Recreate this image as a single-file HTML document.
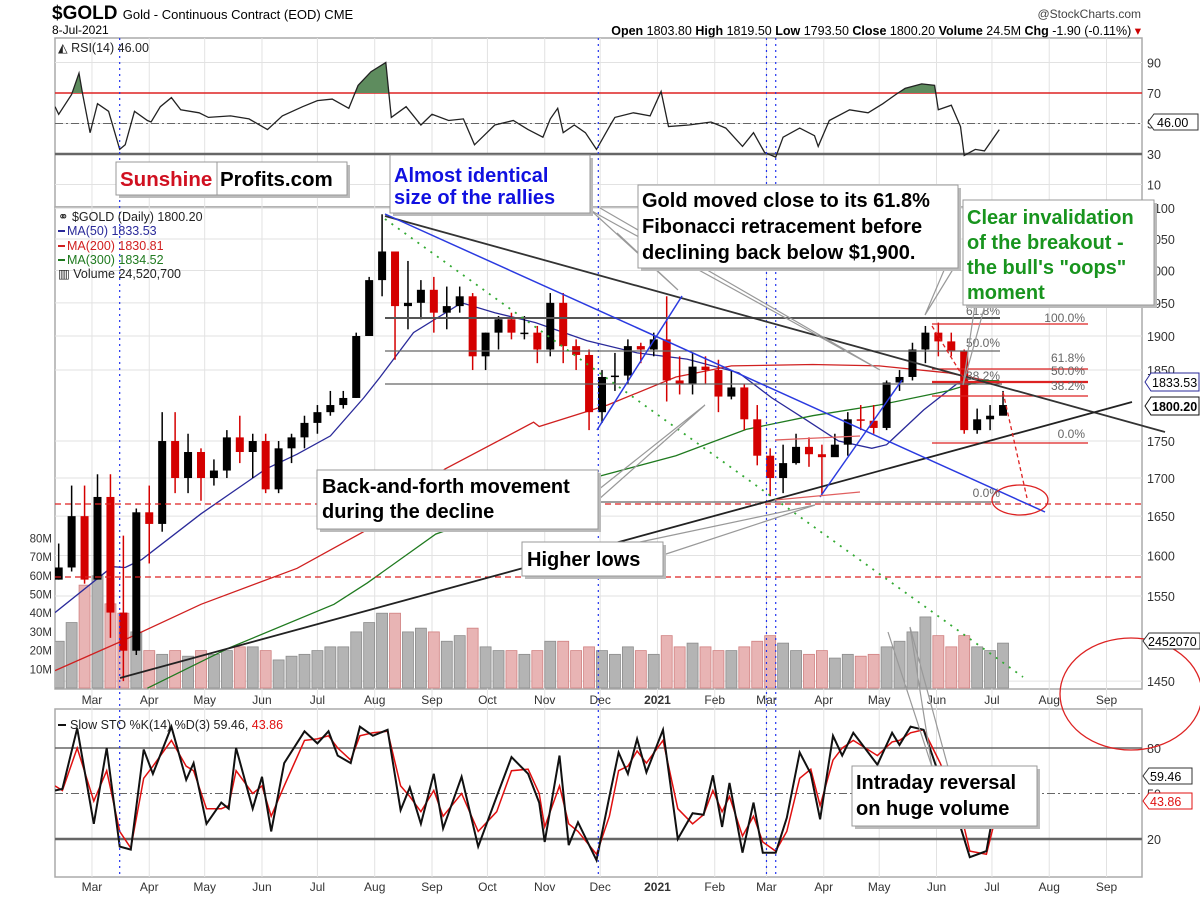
<!DOCTYPE html>
<html><head><meta charset="utf-8"><style>
html,body{margin:0;padding:0;background:#fff}
svg{display:block;font-family:"Liberation Sans",Arial,sans-serif}
</style></head><body>
<svg id="chart" width="1200" height="897" viewBox="0 0 1200 897" xmlns="http://www.w3.org/2000/svg">
<defs>
<clipPath id="cpP"><rect x="55" y="207" width="1087" height="482"/></clipPath>
<clipPath id="cpR"><rect x="55" y="38" width="1087" height="169"/></clipPath>
<clipPath id="cpR70"><rect x="55" y="38" width="1087" height="54.5"/></clipPath>
<clipPath id="cpS"><rect x="55" y="709" width="1087" height="168"/></clipPath>
</defs>
<text x="52" y="19" font-size="19" font-weight="bold">$GOLD <tspan font-size="13" font-weight="normal">Gold - Continuous Contract (EOD)  CME</tspan></text>
<text x="52" y="34" font-size="12">8-Jul-2021</text>
<text x="1141" y="18" font-size="12" text-anchor="end" fill="#444">@StockCharts.com</text>
<text x="1141" y="35" font-size="12.5" text-anchor="end"><tspan font-weight="bold">Open</tspan> 1803.80  <tspan font-weight="bold">High</tspan> 1819.50  <tspan font-weight="bold">Low</tspan> 1793.50  <tspan font-weight="bold">Close</tspan> 1800.20  <tspan font-weight="bold">Volume</tspan> 24.5M  <tspan font-weight="bold">Chg</tspan> -1.90 (-0.11%) <tspan fill="#c00">▾</tspan></text>
<g id="grid"></g>
<g id="rsi" clip-path="url(#cpR)"></g>
<g id="vol" clip-path="url(#cpP)"></g>
<g id="price" clip-path="url(#cpP)"></g>
<g id="sto" clip-path="url(#cpS)"></g>
<g id="ann"></g>
<g id="axes"></g>
</svg>
<script>
// ---------- DATA ----------
const weekDays = [2,9,16,23,30,37,44,51,58,65,72,79,86,93,100,107,114,121,128,135,142,149,156,163,170,177,184,191,198,205,212,219,226,233,240,247,254,261,268,275,282,289,296,303,310,317,324,331,338,345,352,359,366,373,380,387,394,401,408,415,422,429,436,443,450,457,464,471,478,485,492,499,506,513];
const closes = [1585,1650,1570,1675,1530,1485,1655,1640,1750,1700,1735,1700,1710,1755,1735,1750,1685,1740,1755,1775,1790,1800,1810,1900,1985,2030,1945,1950,1970,1935,1945,1960,1870,1905,1925,1905,1905,1880,1950,1885,1872,1790,1840,1842,1885,1880,1895,1835,1830,1855,1850,1812,1825,1780,1730,1700,1720,1742,1732,1728,1745,1780,1778,1768,1832,1840,1880,1905,1892,1878,1765,1780,1785,1800];
const highs = [1615,1690,1690,1705,1705,1625,1660,1690,1790,1790,1760,1740,1725,1765,1785,1760,1760,1750,1760,1785,1800,1820,1820,1905,1990,2090,2015,2015,1985,1990,1975,1975,1965,1905,1930,1935,1930,1915,1965,1965,1895,1880,1850,1875,1895,1890,1905,1960,1870,1875,1870,1865,1850,1830,1800,1740,1745,1760,1755,1745,1760,1790,1800,1800,1835,1850,1890,1915,1920,1905,1880,1795,1800,1820];
const lows = [1570,1580,1565,1570,1500,1450,1480,1590,1630,1680,1680,1670,1690,1700,1720,1700,1680,1680,1720,1740,1760,1785,1795,1810,1900,1960,1865,1910,1925,1905,1910,1935,1850,1850,1880,1895,1895,1860,1870,1860,1850,1765,1775,1820,1830,1860,1870,1805,1815,1815,1830,1790,1808,1765,1717,1676,1680,1718,1715,1678,1730,1730,1765,1760,1765,1820,1835,1860,1870,1870,1760,1760,1765,1795];
const volumes = [25,35,55,60,45,40,30,20,18,20,17,20,18,20,22,22,20,15,17,18,20,22,22,30,35,40,40,30,32,30,25,28,32,22,20,20,18,20,25,25,20,22,20,18,22,20,18,28,22,24,22,20,20,22,25,28,24,20,18,20,16,18,17,18,22,25,30,38,28,22,28,22,20,24];
const ma50Days = [0,31,38,47,79,114,131,149,167,176,194,220,238,260,288,315,342,370,388,406,424,442,450,470,488,511];
const ma50 = [1530,1586,1585,1595,1653,1712,1732,1757,1810,1840,1905,1950,1935,1920,1893,1875,1866,1846,1810,1780,1750,1740,1745,1793,1830,1834];
const ma200Days = [0,38,79,131,167,211,259,262,299,336,366,410,446,483,502,511];
const ma200 = [1462,1498,1540,1584,1630,1712,1776,1770,1800,1840,1856,1858,1856,1846,1836,1831];
const ma300Days = [50,94,151,169,206,294,336,374,410,446,483,502,511];
const ma300 = [1442,1488,1540,1566,1627,1702,1730,1766,1785,1800,1820,1835,1834.5];
const rsiDays = [0,2,9,13,15,19,23,29,35,38,43,50,52,57,63,68,78,83,95,105,115,123,134,142,150,159,164,171,179,182,190,198,204,213,221,227,238,248,256,264,268,272,275,281,287,293,301,303,313,322,328,332,343,355,363,372,378,384,390,394,403,411,413,419,430,440,448,455,460,469,476,478,485,490,492,498,503,511];
const rsi = [61,56,69,83,69,44,63,58,33,36,58,52,51,61,67,59,57,54,55,53,46,55,61,65,66,60,75,84,90,54,61,49,56,52,53,36,49,52,46,41,53,60,44,49,44,33,50,54,57,55,71,48,49,51,47,35,44,31,28,41,47,42,35,52,59,57,63,69,73,76,75,59,62,48,29,33,32,46];
const stoDays = [0,4,12,21,28,35,41,48,53,63,71,75,82,90,94,98,107,112,117,124,135,142,148,153,160,165,172,180,187,192,198,205,210,220,229,239,247,256,262,265,273,278,283,293,300,305,310,315,320,329,337,345,351,356,361,365,372,378,383,390,396,403,409,414,421,426,432,445,453,457,463,470,479,490,495,504,511];
const stoK = [52,53,93,30,80,15,13,79,63,94,59,70,30,44,40,80,40,61,25,70,91,83,91,75,70,94,88,92,39,54,30,63,27,61,15,48,74,63,44,18,75,16,31,6,48,77,63,86,64,92,20,37,36,62,28,57,11,44,11,11,34,77,63,33,88,75,90,69,90,82,94,92,60,28,8,12,59];
const stoD = [55,52,80,45,65,25,14,60,68,85,68,65,40,40,42,65,50,55,35,55,85,86,88,80,72,88,90,91,55,48,38,52,35,50,25,38,65,66,50,28,55,30,25,10,35,65,68,78,70,85,40,30,36,52,38,48,22,35,18,12,25,60,66,42,72,80,85,75,84,85,90,92,70,38,12,10,44];
const monthLabels = ["Mar","Apr","May","Jun","Jul","Aug","Sep","Oct","Nov","Dec","2021","Feb","Mar","Apr","May","Jun","Jul","Aug","Sep"];
const monthDays = [20,51,81,112,142,173,204,234,265,295,326,357,385,416,446,477,507,538,569];
const priceTicks = [2100,2050,2000,1950,1900,1850,1750,1700,1650,1600,1550,1450];
const rsiTicks = [90,70,50,30,10];
const volTicks = [80,70,60,50,40,30,20,10];
const stoTicks = [80,50,20];
// ---------- SCALES ----------
const NS="http://www.w3.org/2000/svg";
const xD = d => 55 + d*1.848;
const yP = p => 336 - 1277*Math.log(p/1900);
const yR = v => 154 - (v-30)*1.525;
const yS = v => 839 - (v-20)*1.517;
const yV = m => 688 - m*1.87;
function mk(tag, attrs, parent){const e=document.createElementNS(NS,tag);for(const k in attrs)e.setAttribute(k,attrs[k]);parent.appendChild(e);return e;}
const G=id=>document.getElementById(id);
const grid=G('grid'),axes=G('axes');
[[38,169],[207,482],[709,168]].forEach(function(p){
  const r=mk('rect',{x:55,y:p[0],width:1087,height:p[1],fill:'#fff',stroke:'#aaa','stroke-width':1.5},grid);
  
  
});
monthDays.forEach(function(d,i){
  const l=mk('line',{x1:xD(d),x2:xD(d),y1:38,y2:877,stroke:'#e2e2e2'},grid);
  
  
  [704,891].forEach(function(yy){
    const t=mk('text',{x:xD(d),y:yy,'font-size':12,'text-anchor':'middle',fill:'#333','font-weight':monthLabels[i]==='2021'?'bold':'normal'},axes);
    t.textContent=monthLabels[i];
    
    
  });
});
priceTicks.forEach(function(p){
  const l=mk('line',{x1:55,x2:1142,y1:yP(p),y2:yP(p),stroke:'#e2e2e2'},grid);
  
  
  const t=mk('text',{x:1147,y:yP(p)+5,'font-size':12.5,fill:'#333'},axes);
  t.textContent=p;
  
  
});
rsiTicks.forEach(function(v){
  const l=mk('line',{x1:55,x2:1142,y1:yR(v),y2:yR(v),stroke:'#e2e2e2'},grid);
  
  
  const t=mk('text',{x:1147,y:yR(v)+5,'font-size':12.5,fill:'#333'},axes);
  t.textContent=v;
  
  
});
volTicks.forEach(function(m){
  const t=mk('text',{x:52,y:yV(m)+4,'font-size':11.5,'text-anchor':'end',fill:'#333'},axes);
  t.textContent=m+'M';
  
  
});
stoTicks.forEach(function(v){
  const t=mk('text',{x:1147,y:yS(v)+5,'font-size':12.5,fill:'#333'},axes);
  t.textContent=v;
  
  
});
(function(){
  const a=mk('line',{x1:55,x2:1142,y1:yR(70),y2:yR(70),stroke:'#d22','stroke-width':1.5},grid);
  
  
  const b=mk('line',{x1:55,x2:1142,y1:yR(30),y2:yR(30),stroke:'#666','stroke-width':2.5},grid);
  
  
  const c=mk('line',{x1:55,x2:1142,y1:yR(50),y2:yR(50),stroke:'#666','stroke-dasharray':'8 3 2 3'},grid);
  
  
  const d=mk('line',{x1:55,x2:1142,y1:yS(80),y2:yS(80),stroke:'#666','stroke-width':1.5},grid);
  
  
  const e=mk('line',{x1:55,x2:1142,y1:yS(20),y2:yS(20),stroke:'#666','stroke-width':2.5},grid);
  
  
  const f=mk('line',{x1:55,x2:1142,y1:yS(50),y2:yS(50),stroke:'#666','stroke-dasharray':'8 3 2 3'},grid);
  
  
})();
// RSI
const rsiG=G('rsi');
let rp=rsiDays.map((d,i)=>xD(d).toFixed(1)+','+yR(rsi[i]).toFixed(1)).join(' ');
document.querySelector('#cpR70 rect').setAttribute('height', yR(70)-38);
const rf=mk('polygon',{points:xD(rsiDays[0])+','+yR(70)+' '+rp+' '+xD(rsiDays[rsiDays.length-1])+','+yR(70),fill:'#5e8c5e',stroke:'none','clip-path':'url(#cpR70)'},rsiG);


const rl=mk('polyline',{points:rp,fill:'none',stroke:'#222','stroke-width':1.3},rsiG);


// volume
const volG=G('vol');
volumes.forEach(function(v,i){
  const down=i>0&&closes[i]<closes[i-1];
  const b=mk('rect',{x:xD(weekDays[i])-5.5,y:yV(v),width:11,height:688-yV(v),fill:down?'#e8b4b4':'#b4b4b4',stroke:down?'#d08080':'#8c8c8c','stroke-width':0.8},volG);
  
  
});
// MAs
const priceG=G('price');
function maLine(days,vals,col,name){
  const l=mk('polyline',{points:days.map((d,i)=>xD(d).toFixed(1)+','+yP(vals[i]).toFixed(1)).join(' '),fill:'none',stroke:col,'stroke-width':1.3},priceG);
  
  
}
maLine(ma50Days,ma50,'#2a2a9a','ma50-line');
maLine(ma200Days,ma200,'#d02020','ma200-line');
maLine(ma300Days,ma300,'#1f7a1f','ma300-line');
// candles
closes.forEach(function(c,i){
  const o=i>0?closes[i-1]:lows[i];
  const down=i>0&&c<closes[i-1];
  const col=down?'#d40000':'#000';
  const x=xD(weekDays[i]);
  const w=mk('line',{x1:x,x2:x,y1:yP(highs[i]),y2:yP(lows[i]),stroke:col,'stroke-width':1.5},priceG);
  
  
  const top=Math.min(yP(o),yP(c)),h=Math.max(1.5,Math.abs(yP(o)-yP(c)));
  const b=mk('rect',{x:x-4,y:top,width:8,height:h,fill:col},priceG);
  
  
});
// stochastic
const stoG=G('sto');
const sd=mk('polyline',{points:stoDays.map((d,i)=>xD(d).toFixed(1)+','+yS(stoD[i]).toFixed(1)).join(' '),fill:'none',stroke:'#e01010','stroke-width':1.5},stoG);


const sk=mk('polyline',{points:stoDays.map((d,i)=>xD(d).toFixed(1)+','+yS(stoK[i]).toFixed(1)).join(' '),fill:'none',stroke:'#111','stroke-width':2},stoG);


[35,294,385,390].forEach(function(d){
  const l=mk('line',{x1:xD(d),x2:xD(d),y1:38,y2:877,stroke:'#2233ee','stroke-width':1.2,'stroke-dasharray':'2 4'},G('ann'));
  
  
});
</script>
<svg x="0" y="0" width="1200" height="897" style="position:absolute;left:0;top:0" viewBox="0 0 1200 897" font-family="Liberation Sans, Arial, sans-serif">
<g fill="none">
<line x1="55" y1="504" x2="1142" y2="504" stroke="#d22" stroke-dasharray="6 4" stroke-width="1.2"/>
<line x1="55" y1="577" x2="1142" y2="577" stroke="#d22" stroke-dasharray="6 4" stroke-width="1.2"/>
<line x1="385" y1="318" x2="1000" y2="318" stroke="#555" stroke-width="2"/>
<line x1="385" y1="351" x2="1000" y2="351" stroke="#666" stroke-width="1.3"/>
<line x1="385" y1="384" x2="1002" y2="384" stroke="#666" stroke-width="1.3"/>
<line x1="597" y1="502" x2="1000" y2="502" stroke="#666" stroke-width="1.3"/>
<line x1="932" y1="324" x2="1088" y2="324" stroke="#d22" stroke-width="1.2"/>
<line x1="932" y1="369" x2="1088" y2="369" stroke="#d22" stroke-width="1.2"/>
<line x1="932" y1="382" x2="1088" y2="382" stroke="#d22" stroke-width="2.2"/>
<line x1="932" y1="396" x2="1088" y2="396" stroke="#d22" stroke-width="1.2"/>
<line x1="932" y1="443" x2="1088" y2="443" stroke="#d22" stroke-width="1.2"/>
<line x1="385" y1="216" x2="1165" y2="432" stroke="#333" stroke-width="1.8"/>
<line x1="120" y1="678" x2="1132" y2="402" stroke="#222" stroke-width="1.8"/>
<line x1="385" y1="214" x2="1045" y2="512" stroke="#2a3ae0" stroke-width="1.5"/>
<line x1="385" y1="219" x2="1023" y2="677" stroke="#3a3" stroke-width="1.8" stroke-dasharray="2 6"/>
<line x1="597" y1="430" x2="682" y2="296" stroke="#2a3ae0" stroke-width="1.5"/>
<line x1="820" y1="497" x2="902" y2="380" stroke="#2a3ae0" stroke-width="1.5"/>
<line x1="775" y1="440" x2="860" y2="436" stroke="#e06060" stroke-width="1.3"/>
<line x1="775" y1="500" x2="860" y2="492" stroke="#e06060" stroke-width="1.3"/>
<polyline points="932,326 965,380" stroke="#d22" stroke-dasharray="4 3" stroke-width="1.3"/>
<polyline points="1003,392 1027,498" stroke="#d22" stroke-dasharray="4 3" stroke-width="1.3"/>
<ellipse cx="1020" cy="500" rx="28" ry="15" stroke="#d22" stroke-width="1.3"/>
<ellipse cx="1131" cy="694" rx="71" ry="56" stroke="#d22" stroke-width="1.3"/>
</g>
<g font-size="12" fill="#666" text-anchor="end">
<text x="1085" y="322">100.0%</text><text x="1085" y="362">61.8%</text><text x="1085" y="375">50.0%</text><text x="1085" y="390">38.2%</text><text x="1085" y="438">0.0%</text>
<text x="1000" y="315">61.8%</text><text x="1000" y="347">50.0%</text><text x="1000" y="380">38.2%</text><text x="1000" y="497">0.0%</text>
</g>
<g stroke="#999" stroke-width="1.2" fill="none">
<polyline points="585,205 678,290 617,233"/>
<polyline points="590,210 880,370 600,208"/>
<polyline points="955,266 925,315 945,268"/>
<polyline points="975,305 963,385 985,305"/>
<polyline points="598,500 705,405 598,490"/>
<polyline points="663,555 815,505 640,542"/>
<polyline points="948,767 910,627 932,767"/>
<polyline points="932,767 888,632"/>
</g>
<g font-size="12.5">
<text x="58" y="221" fill="#222">⚭ $GOLD (Daily) 1800.20</text>
<line x1="58" y1="231" x2="65" y2="231" stroke="#2a2a9a" stroke-width="2"/><text x="67" y="235" fill="#2a2a9a">MA(50) 1833.53</text>
<line x1="58" y1="246" x2="65" y2="246" stroke="#d02020" stroke-width="2"/><text x="67" y="250" fill="#d02020">MA(200) 1830.81</text>
<line x1="58" y1="260" x2="65" y2="260" stroke="#1f7a1f" stroke-width="2"/><text x="67" y="264" fill="#1f7a1f">MA(300) 1834.52</text>
<text x="58" y="278" fill="#222">▥ Volume 24,520,700</text>
<text x="58" y="52" fill="#222">◭ RSI(14) 46.00</text>
<line x1="58" y1="725" x2="66" y2="725" stroke="#111" stroke-width="2"/><text x="70" y="729" fill="#222">Slow STO %K(14) %D(3) 59.46, <tspan fill="#e01010">43.86</tspan></text>
</g>
<g font-size="12.5">
<path d="M1148,122 l6,-8 h44 v16 h-44 z" fill="#fff" stroke="#333"/><text x="1157" y="127">46.00</text>
<path d="M1145,382 l6,-9 h48 v18 h-48 z" fill="#fff" stroke="#2a2a9a"/><text x="1152" y="387">1833.53</text>
<path d="M1145,406 l6,-9 h48 v18 h-48 z" fill="#fff" stroke="#111"/><text x="1152" y="411" font-weight="bold">1800.20</text>
<path d="M1143,641 l6,-8 h51 v16 h-51 z" fill="#fff" stroke="#333"/><text x="1148" y="646">2452070</text>
<path d="M1143,776 l6,-8 h43 v16 h-43 z" fill="#fff" stroke="#333"/><text x="1150" y="781">59.46</text>
<path d="M1143,801 l6,-8 h43 v16 h-43 z" fill="#fff" stroke="#e01010"/><text x="1150" y="806" fill="#e01010">43.86</text>
</g>
<g font-weight="bold" font-size="20">
<g><rect x="119" y="165" width="231" height="33" fill="#bbb"/><rect x="116" y="162" width="231" height="33" fill="#fff" stroke="#999"/><line x1="217" y1="162" x2="217" y2="195" stroke="#999"/><text x="120" y="186" fill="#d01020" font-size="20.5">Sunshine</text><text x="220" y="186" fill="#000" font-size="20.5">Profits.com</text></g>
<g><rect x="393" y="158" width="200" height="58" fill="#bbb"/><rect x="390" y="155" width="200" height="58" fill="#fff" stroke="#999"/><text x="394" y="182" fill="#1010e0">Almost identical</text><text x="394" y="204" fill="#1010e0">size of the rallies</text></g>
<g><rect x="641" y="188" width="320" height="83" fill="#bbb"/><rect x="638" y="185" width="320" height="83" fill="#fff" stroke="#999"/><text x="642" y="207">Gold moved close to its 61.8%</text><text x="642" y="233">Fibonacci retracement before</text><text x="642" y="259">declining back below $1,900.</text></g>
<g><rect x="966" y="203" width="191" height="105" fill="#bbb"/><rect x="963" y="200" width="191" height="105" fill="#fff" stroke="#999"/><text x="967" y="224" fill="#18941e">Clear invalidation</text><text x="967" y="249" fill="#18941e">of the breakout -</text><text x="967" y="274" fill="#18941e">the bull's "oops"</text><text x="967" y="299" fill="#18941e">moment</text></g>
<g><rect x="320" y="473" width="281" height="59" fill="#bbb"/><rect x="317" y="470" width="281" height="59" fill="#fff" stroke="#999"/><text x="322" y="493">Back-and-forth movement</text><text x="322" y="518">during the decline</text></g>
<g><rect x="525" y="545" width="141" height="34" fill="#bbb"/><rect x="522" y="542" width="141" height="34" fill="#fff" stroke="#999"/><text x="527" y="566">Higher lows</text></g>
<g><rect x="855" y="769" width="185" height="60" fill="#bbb"/><rect x="852" y="766" width="185" height="60" fill="#fff" stroke="#999"/><text x="856" y="789">Intraday reversal</text><text x="856" y="815">on huge volume</text></g>
</g>
</svg>
</body></html>
